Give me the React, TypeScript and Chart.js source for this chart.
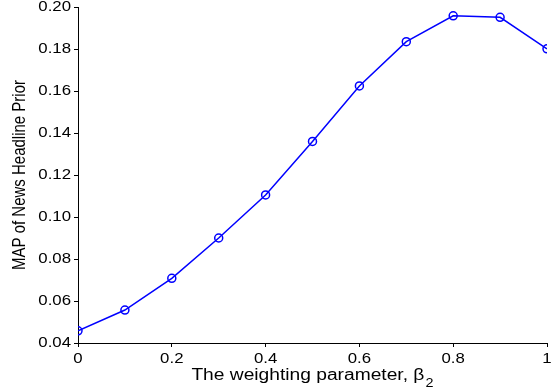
import React, { useEffect, useRef } from "react";
import { Chart, registerables } from "chart.js";

Chart.register(...registerables);

const betaValues = [0, 0.1, 0.2, 0.3, 0.4, 0.5, 0.6, 0.7, 0.8, 0.9, 1.0];
const mapValues = [0.0458, 0.0557, 0.0708, 0.0900, 0.1105, 0.1360, 0.1624, 0.1835, 0.1958, 0.1951, 0.1801];
const xTickValues = [0, 0.2, 0.4, 0.6, 0.8, 1];
const xTickLabels = ["0", "0.2", "0.4", "0.6", "0.8", "1"];
const yTickValues = [0.04, 0.06, 0.08, 0.1, 0.12, 0.14, 0.16, 0.18, 0.2];
const yTickLabels = ["0.04", "0.06", "0.08", "0.10", "0.12", "0.14", "0.16", "0.18", "0.20"];
const xTitle = "The weighting parameter, β";
const xTitleSub = "2";
const yTitle = "MAP of News Headline Prior";

const FONT = "Liberation Sans, Arial, Helvetica, sans-serif";
const STRETCH = 1.2;

const textPlugin = {
  id: "axisText",
  afterDraw(chart: any) {
    const ctx = chart.ctx;
    const xs = chart.scales.x;
    const ys = chart.scales.y;
    ctx.save();
    ctx.fillStyle = "#000";

    // x tick labels
    ctx.font = `14px ${FONT}`;
    ctx.textBaseline = "alphabetic";
    ctx.textAlign = "center";
    xTickValues.forEach((v, i) => {
      ctx.save();
      ctx.translate(xs.getPixelForValue(v), 363);
      ctx.scale(STRETCH, 1);
      ctx.fillText(xTickLabels[i], 0, 0);
      ctx.restore();
    });

    // y tick labels
    ctx.textAlign = "right";
    ctx.textBaseline = "middle";
    yTickValues.forEach((v, i) => {
      ctx.save();
      ctx.translate(71, ys.getPixelForValue(v) + 0.5);
      ctx.scale(STRETCH, 1);
      ctx.fillText(yTickLabels[i], 0, 0);
      ctx.restore();
    });

    // x title with subscript
    ctx.textBaseline = "alphabetic";
    ctx.textAlign = "left";
    ctx.font = `16px ${FONT}`;
    const mainW = ctx.measureText(xTitle).width;
    ctx.font = `12px ${FONT}`;
    const subW = ctx.measureText(xTitleSub).width;
    const totalW = (mainW + 1 + subW) * STRETCH;
    const cx = (xs.left + xs.right) / 2;
    ctx.save();
    ctx.translate(cx - totalW / 2, 380);
    ctx.scale(STRETCH, 1);
    ctx.font = `16px ${FONT}`;
    ctx.fillText(xTitle, 0, 0);
    ctx.font = `12px ${FONT}`;
    ctx.fillText(xTitleSub, mainW + 1, 7);
    ctx.restore();

    // y title
    ctx.font = `15px ${FONT}`;
    ctx.save();
    ctx.translate(25, (ys.top + ys.bottom) / 2);
    ctx.scale(STRETCH, 1);
    ctx.rotate(-Math.PI / 2);
    ctx.textAlign = "center";
    ctx.fillText(yTitle, 0, 0);
    ctx.restore();

    ctx.restore();
  },
};

export default function App() {
  const ref = useRef<HTMLCanvasElement>(null);
  useEffect(() => {
    document.body.style.margin = "0";
    const chart = new Chart(ref.current as HTMLCanvasElement, {
      type: "line",
      data: {
        datasets: [
          {
            data: betaValues.map((b, i) => ({ x: b, y: mapValues[i] })),
            borderColor: "#0000ff",
            backgroundColor: "rgba(0,0,0,0)",
            borderWidth: 1.5,
            pointRadius: 4,
            pointBorderWidth: 1.5,
            pointBorderColor: "#0000ff",
            pointBackgroundColor: "rgba(0,0,0,0)",
            tension: 0,
          },
        ],
      },
      options: {
        animation: false,
        responsive: false,
        layout: { padding: { top: 7, right: 10, left: 0, bottom: 0 } },
        plugins: { legend: { display: false }, tooltip: { enabled: false } },
        scales: {
          x: {
            type: "linear",
            min: 0,
            max: 1,
            afterFit(s: any) {
              s.height = 49;
            },
            afterBuildTicks(s: any) {
              s.ticks = xTickValues.map((v) => ({ value: v }));
            },
            border: { display: true, color: "#000", width: 1 },
            grid: { drawOnChartArea: false, drawTicks: true, tickLength: 4, color: "#000" },
            ticks: { display: false },
          },
          y: {
            type: "linear",
            min: 0.04,
            max: 0.2,
            afterFit(s: any) {
              s.width = 78;
            },
            afterBuildTicks(s: any) {
              s.ticks = yTickValues.map((v) => ({ value: v }));
            },
            border: { display: true, color: "#000", width: 1 },
            grid: { drawOnChartArea: false, drawTicks: true, tickLength: 4, color: "#000" },
            ticks: { display: false },
          },
        },
      },
      plugins: [textPlugin],
    });
    return () => chart.destroy();
  }, []);
  return (
    <div style={{ position: "absolute", left: 0, top: 0, width: 557, height: 392, background: "#fff" }}>
      <canvas ref={ref} width={557} height={392} />
    </div>
  );
}
